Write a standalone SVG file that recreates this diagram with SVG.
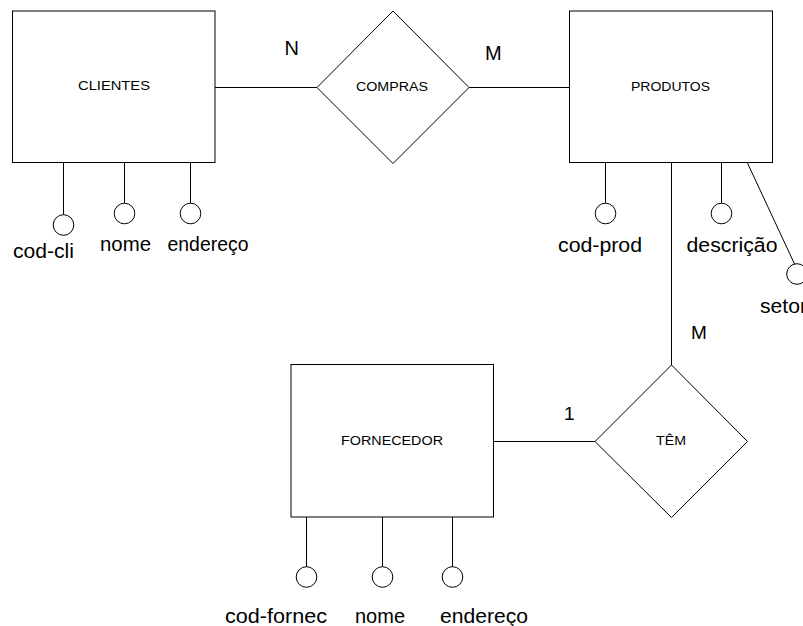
<svg xmlns="http://www.w3.org/2000/svg" width="803" height="626" viewBox="0 0 803 626">
<style>
.box{fill:#fff;stroke:#000;stroke-width:1}
.rel{fill:#fff;stroke:#000;stroke-width:1}
.att{fill:#fff;stroke:#000;stroke-width:1}
.con{stroke:#000;stroke-width:1;fill:none}
.lbl{font-family:"Liberation Sans",Arial,sans-serif;font-size:12px;fill:#000}
.atx{font-family:"Liberation Sans",Arial,sans-serif;font-size:20px;fill:#000}
.card{font-family:"Liberation Sans",Arial,sans-serif;font-size:20px;fill:#000}
</style>
<rect width="803" height="626" fill="#fff"/>
<g id="connectors">
<line class="con" x1="215" y1="87.5" x2="317" y2="87.5"/>
<line class="con" x1="469" y1="87.5" x2="569.5" y2="87.5"/>
<line class="con" x1="671.5" y1="162" x2="671.5" y2="365"/>
<line class="con" x1="493" y1="441.5" x2="595" y2="441.5"/>
<line class="con" x1="63.5" y1="162" x2="63.5" y2="214.5"/>
<line class="con" x1="124.5" y1="162" x2="124.5" y2="203"/>
<line class="con" x1="190.5" y1="162" x2="190.5" y2="203"/>
<line class="con" x1="605.5" y1="162" x2="605.5" y2="203"/>
<line class="con" x1="721.5" y1="162" x2="721.5" y2="203"/>
<line class="con" x1="747" y1="162" x2="795" y2="265"/>
<line class="con" x1="306.5" y1="517" x2="306.5" y2="567"/>
<line class="con" x1="382.5" y1="517" x2="382.5" y2="567"/>
<line class="con" x1="452.5" y1="517" x2="452.5" y2="567"/>
</g>
<g id="clientes">
<rect class="box" x="12.5" y="11" width="202.5" height="151.5"/>
<text class="lbl" x="114" y="90" text-anchor="middle" textLength="72" lengthAdjust="spacingAndGlyphs">CLIENTES</text>
</g>
<g id="compras">
<polygon class="rel" points="393,11 469,87.5 393,163.5 317,87.5"/>
<text class="lbl" x="392" y="90.5" text-anchor="middle" textLength="72" lengthAdjust="spacingAndGlyphs">COMPRAS</text>
</g>
<g id="produtos">
<rect class="box" x="569.5" y="11" width="203" height="151.5"/>
<text class="lbl" x="670.5" y="90.5" text-anchor="middle" textLength="79" lengthAdjust="spacingAndGlyphs">PRODUTOS</text>
</g>
<g id="fornecedor">
<rect class="box" x="291" y="364.5" width="202.5" height="152.5"/>
<text class="lbl" x="392" y="445" text-anchor="middle" textLength="102" lengthAdjust="spacingAndGlyphs">FORNECEDOR</text>
</g>
<g id="tem">
<polygon class="rel" points="671.5,365 747.5,441.5 671.5,517.5 595,441.5"/>
<text class="lbl" x="671" y="445" text-anchor="middle" textLength="30" lengthAdjust="spacingAndGlyphs">TÊM</text>
</g>
<g id="attr-cod-cli">
<circle class="att" cx="63.5" cy="225" r="10.3"/>
<text class="atx" x="13" y="258" textLength="61" lengthAdjust="spacingAndGlyphs">cod-cli</text>
</g>
<g id="attr-nome-cli">
<circle class="att" cx="124.5" cy="213.5" r="10.3"/>
<text class="atx" x="100" y="251" textLength="51" lengthAdjust="spacingAndGlyphs">nome</text>
</g>
<g id="attr-endereco-cli">
<circle class="att" cx="190.5" cy="213.5" r="10.3"/>
<text class="atx" x="167.5" y="251" textLength="81" lengthAdjust="spacingAndGlyphs">endereço</text>
</g>
<g id="attr-cod-prod">
<circle class="att" cx="605.5" cy="213.5" r="10.3"/>
<text class="atx" x="558" y="252" textLength="84" lengthAdjust="spacingAndGlyphs">cod-prod</text>
</g>
<g id="attr-descricao">
<circle class="att" cx="721.5" cy="213.5" r="10.3"/>
<text class="atx" x="686.5" y="252" textLength="91" lengthAdjust="spacingAndGlyphs">descrição</text>
</g>
<g id="attr-setor">
<circle class="att" cx="797" cy="274" r="10.3"/>
<text class="atx" x="760" y="313" textLength="47" lengthAdjust="spacingAndGlyphs">setor</text>
</g>
<g id="attr-cod-fornec">
<circle class="att" cx="306.5" cy="577" r="10.3"/>
<text class="atx" x="225" y="623" textLength="102" lengthAdjust="spacingAndGlyphs">cod-fornec</text>
</g>
<g id="attr-nome-forn">
<circle class="att" cx="382.5" cy="577" r="10.3"/>
<text class="atx" x="355" y="623" textLength="50" lengthAdjust="spacingAndGlyphs">nome</text>
</g>
<g id="attr-endereco-forn">
<circle class="att" cx="452.5" cy="577" r="10.3"/>
<text class="atx" x="440" y="623" textLength="88" lengthAdjust="spacingAndGlyphs">endereço</text>
</g>
<g id="cardinalities">
<text class="card" x="284.5" y="55">N</text>
<text class="card" x="485" y="60">M</text>
<text class="card" x="691" y="338.5" style="font-size:19px">M</text>
<text class="card" x="564" y="420" style="font-size:19px">1</text>
</g>
</svg>
